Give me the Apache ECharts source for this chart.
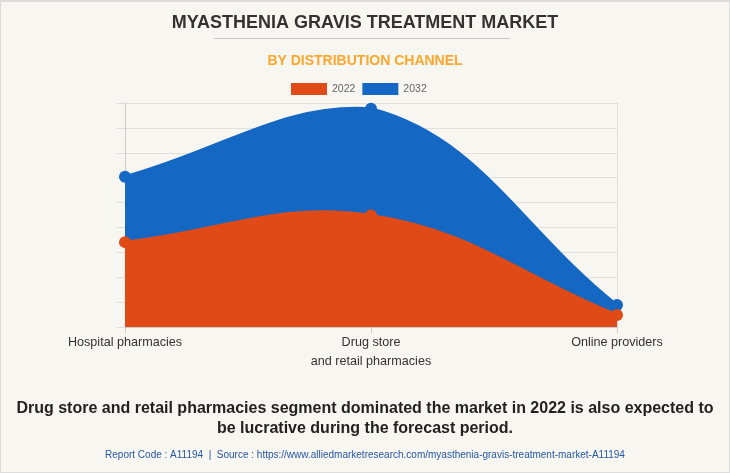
<!DOCTYPE html>
<html><head><meta charset="utf-8">
<script src="https://cdn.jsdelivr.net/npm/echarts@6/dist/echarts.min.js"></script>
<style>
html,body{margin:0;padding:0;background:#f8f6f0;}
#c{width:730px;height:473px;box-sizing:border-box;border:1px solid #dcdcdc;border-top:2px solid #dcdcdc;}
</style></head>
<body><div id="c"></div>
<script>
const categories = ['Hospital pharmacies', 'Drug store\nand retail pharmacies', 'Online providers'];
const values2022 = [3.41, 4.48, 0.48];
const values2032 = [6.04, 8.77, 0.88];
const seriesNames = ['2022', '2032'];
const colors = {'2022': '#e04a16', '2032': '#1467c2'};

const F = '"Liberation Sans", Arial, sans-serif';
const TENSION = 0.4;

function controlPoints(pts, area) {
  // cubic spline control points (tension-based), capped to the plot area
  const cap = (pt) => [
    Math.min(Math.max(pt[0], area.left), area.right),
    Math.min(Math.max(pt[1], area.top), area.bottom)
  ];
  const res = [];
  for (let i = 0; i < pts.length; i++) {
    const prev = pts[i - 1] || pts[i];
    const cur = pts[i];
    const next = pts[i + 1] || pts[i];
    const d01 = Math.hypot(cur[0] - prev[0], cur[1] - prev[1]);
    const d12 = Math.hypot(next[0] - cur[0], next[1] - cur[1]);
    let s01 = d01 / (d01 + d12), s12 = d12 / (d01 + d12);
    if (!isFinite(s01)) s01 = 0;
    if (!isFinite(s12)) s12 = 0;
    const fa = TENSION * s01, fb = TENSION * s12;
    res.push({
      prev: cap([cur[0] - fa * (next[0] - prev[0]), cur[1] - fa * (next[1] - prev[1])]),
      next: cap([cur[0] + fb * (next[0] - prev[0]), cur[1] + fb * (next[1] - prev[1])])
    });
  }
  return res;
}

function makeSeries(name, vals) {
  const color = colors[name];
  return {
    name: name, type: 'custom',
    data: vals.map((v, i) => [i, v]),
    encode: {x: 0, y: 1},
    itemStyle: {color: color},
    renderItem: function (params, api) {
      const idx = params.dataIndex;
      const p = api.coord([idx, vals[idx]]);
      const circle = {type: 'circle', shape: {cx: p[0], cy: p[1], r: 6}, style: {fill: color}, z2: 10};
      if (idx !== 0) return circle;
      const cs = params.coordSys;
      const area = {left: cs.x, right: cs.x + cs.width, top: cs.y, bottom: cs.y + cs.height};
      const pts = vals.map((v, i) => api.coord([i, v]));
      const cps = controlPoints(pts, area);
      let d = 'M' + pts[0][0] + ' ' + pts[0][1];
      for (let i = 1; i < pts.length; i++) {
        const a = cps[i - 1].next, b = cps[i].prev;
        d += ' C' + a[0] + ' ' + a[1] + ' ' + b[0] + ' ' + b[1] + ' ' + pts[i][0] + ' ' + pts[i][1];
      }
      const lineD = d;
      const b0 = api.coord([pts.length - 1, 0]);
      const b1 = api.coord([0, 0]);
      d += ' L' + b0[0] + ' ' + b0[1] + ' L' + b1[0] + ' ' + b1[1] + ' Z';
      return {
        type: 'group',
        children: [
          {type: 'path', shape: {pathData: d}, style: {fill: color, stroke: null}},
          {type: 'path', shape: {pathData: lineD}, style: {fill: null, stroke: color, lineWidth: 3}},
          circle
        ]
      };
    }
  };
}

const chart = echarts.init(document.getElementById('c'));
chart.setOption({
  backgroundColor: '#f8f6f0',
  animation: false,
  title: [
    {text: 'MYASTHENIA GRAVIS TREATMENT MARKET', left: 'center', top: 7,
     textStyle: {fontFamily: F, fontSize: 18, fontWeight: 'bold', color: '#333'}},
    {text: 'BY DISTRIBUTION CHANNEL', left: 'center', top: 47,
     textStyle: {fontFamily: F, fontSize: 14, fontWeight: 'bold', color: '#fba62c'}},
    {text: 'Drug store and retail pharmacies segment dominated the market in 2022 is also expected to\nbe lucrative during the forecast period.', left: 'center', top: 392,
     textStyle: {fontFamily: F, fontSize: 16, fontWeight: 'bold', color: '#222', lineHeight: 20, align: 'center'}},
    {text: 'Report Code : A11194  |  Source : https://www.alliedmarketresearch.com/myasthenia-gravis-treatment-market-A11194', left: 'center', top: 443,
     textStyle: {fontFamily: F, fontSize: 10, fontWeight: 'normal', color: '#2457a6'}}
  ],
  graphic: [{type: 'line', shape: {x1: 213, y1: 36.5, x2: 509, y2: 36.5}, style: {stroke: '#c8c8c8', lineWidth: 1}}],
  legend: {
    data: seriesNames, top: 81, left: 290, itemWidth: 36, itemHeight: 12, itemGap: 7, padding: 0,
    icon: 'rect',
    textStyle: {fontFamily: F, fontSize: 10.5, color: '#666'}
  },
  grid: {left: 124, right: 112, top: 101, bottom: 145},
  xAxis: {
    type: 'category', data: categories, boundaryGap: false,
    axisLine: {show: true, lineStyle: {color: '#ccc'}},
    axisTick: {show: true, length: 6, lineStyle: {color: '#ccc'}},
    splitLine: {show: true, lineStyle: {color: '#e2e0da'}},
    axisLabel: {fontFamily: F, fontSize: 12.6, color: '#333', margin: 6, lineHeight: 19}
  },
  yAxis: {
    type: 'value', min: 0, max: 9, interval: 1,
    axisLine: {show: true, lineStyle: {color: '#ccc'}},
    axisTick: {show: true, length: 8, lineStyle: {color: '#ddd'}},
    axisLabel: {show: false},
    splitLine: {show: true, lineStyle: {color: '#e2e0da'}}
  },
  series: [makeSeries('2032', values2032), makeSeries('2022', values2022)]
});
</script></body></html>
